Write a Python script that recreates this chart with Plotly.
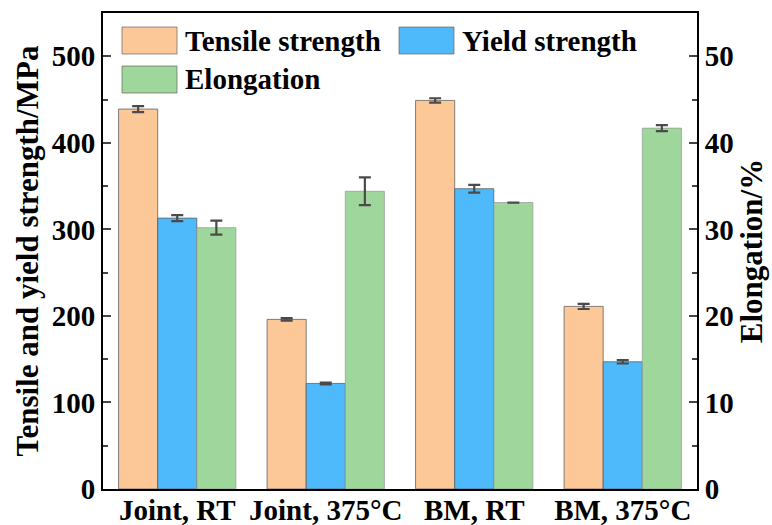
import plotly.graph_objects as go

categories = ["Joint, RT", "Joint, 375°C", "BM, RT", "BM, 375°C"]
tensile = [439, 196, 449, 211]
tensile_err = [3.5, 1.5, 2.5, 3]
yield_s = [313, 122, 347, 147]
yield_err = [3.5, 1, 4.5, 2]
elong = [30.2, 34.4, 33.1, 41.7]
elong_err = [0.8, 1.6, float("nan"), 0.35]

left_ticks = [0, 100, 200, 300, 400, 500]
right_ticks = [0, 10, 20, 30, 40, 50]

C_T = "#FDC897"
C_Y = "#4FBAFB"
C_E = "#9ED69B"
FONT = "Liberation Serif"
err_style = dict(type="data", visible=True, color="#4a4a4a", thickness=2.2, width=6)

# plot area in pixels
PL, PR, PT, PB = 103, 697, 13, 489
W, H = 772, 525

fig = go.Figure()
fig.add_trace(go.Bar(x=categories, y=tensile, name="Tensile strength", offsetgroup="a",
                     marker=dict(color=C_T, line=dict(color="rgba(90,90,90,0.75)", width=1)),
                     error_y=dict(array=tensile_err, **err_style), yaxis="y"))
fig.add_trace(go.Bar(x=categories, y=yield_s, name="Yield strength", offsetgroup="b",
                     marker=dict(color=C_Y, line=dict(color="rgba(90,90,90,0.75)", width=1)),
                     error_y=dict(array=yield_err, **err_style), yaxis="y"))
fig.add_trace(go.Bar(x=categories, y=elong, name="Elongation", offsetgroup="c",
                     marker=dict(color=C_E, line=dict(color="rgba(140,140,140,0.6)", width=1)),
                     error_y=dict(array=elong_err, **err_style), yaxis="y2"))

tickfont = dict(family=FONT, size=29, color="black")
titlefont = dict(family=FONT, size=31, color="black")
fig.update_layout(
    width=W, height=H,
    margin=dict(l=PL, r=W - PR, t=PT, b=H - PB, autoexpand=False),
    paper_bgcolor="white", plot_bgcolor="white",
    barmode="group", bargap=0.21, bargroupgap=0,
    showlegend=False,
    font=dict(family=FONT, color="black"),
    xaxis=dict(showline=True, linecolor="black", linewidth=2, mirror=True, automargin=False,
               ticks="", tickfont=dict(family=FONT, size=29, color="black"),
               ticklabelstandoff=-6,
               tickvals=categories, ticktext=[f"<b>{c}</b>" for c in categories],
               range=[-0.5, 3.5]),
    yaxis=dict(range=[0, 550], tickvals=left_ticks, ticktext=[f"<b>{t}</b>" for t in left_ticks],
               showline=True, linecolor="black", automargin=False,
               linewidth=2, ticks="inside", ticklen=8, tickwidth=2, showgrid=False,
               zeroline=False, tickfont=tickfont,
               minor=dict(dtick=50, ticks="inside", ticklen=5, tickwidth=1.5, showgrid=False),
               title=dict(text="<b>Tensile and yield strength/MPa</b>", font=titlefont, standoff=4)),
    yaxis2=dict(range=[0, 55], tickvals=right_ticks, ticktext=[f"<b>{t}</b>" for t in right_ticks],
                overlaying="y", side="right", automargin=False,
                showline=True, linecolor="black", linewidth=2, ticks="inside", ticklen=8,
                tickwidth=2, showgrid=False, zeroline=False, tickfont=tickfont,
                minor=dict(dtick=5, ticks="inside", ticklen=5, tickwidth=1.5, showgrid=False),
                title=dict(text="<b>Elongation/%</b>", font=titlefont, standoff=4)),
)

# custom legend (large swatches), positioned in plot-area paper coords
def px(x, y):
    return (x - PL) / (PR - PL), (PB - y) / (PB - PT)

legend_items = [("Tensile strength", C_T, 122, 27), ("Yield strength", C_Y, 399, 27),
                ("Elongation", C_E, 122, 66)]
for name, col, x0, y0 in legend_items:
    ax0, ay0 = px(x0, y0)
    ax1, ay1 = px(x0 + 55, y0 + 27)
    fig.add_shape(type="rect", xref="paper", yref="paper", x0=ax0, x1=ax1, y0=ay1, y1=ay0,
                  fillcolor=col, line=dict(color="rgba(100,100,100,0.7)", width=1))
    tx, ty = px(x0 + 61, y0 + 13.5)
    fig.add_annotation(xref="paper", yref="paper", x=tx, y=ty, xanchor="left", yanchor="middle",
                       text=f"<b>{name}</b>", showarrow=False,
                       font=dict(family=FONT, size=29, color="black"))

fig.write_html("out.html", config={"displayModeBar": False},
               post_script="document.body.style.margin='0';document.body.style.padding='0';")
